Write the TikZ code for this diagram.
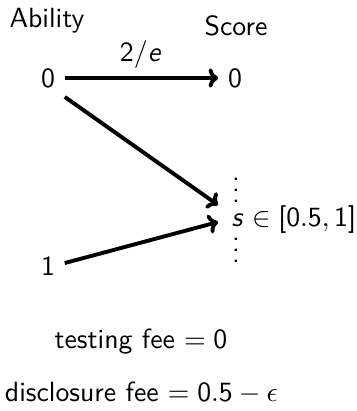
\documentclass[tikz,border=0pt]{standalone}
\usetikzlibrary{arrows.meta}
\DeclareSymbolFont{sfit}{OT1}{cmss}{m}{sl}
\SetSymbolFont{operators}{normal}{OT1}{cmss}{m}{n}
\DeclareMathSymbol{s}{\mathalpha}{sfit}{`s}
\DeclareMathSymbol{e}{\mathalpha}{sfit}{`e}
\newcommand\tightvdots{\vbox{\baselineskip4pt\lineskiplimit0pt\hbox{.}\hbox{.}\hbox{.}}}
\tikzset{
  lbl/.style={font=\sffamily},
  arr/.style={line width=1.4pt,-{To[length=3.5pt,width=7pt]}},
}
\begin{document}
\begin{tikzpicture}[x=0.36pt,y=-0.36pt]
\useasboundingbox (0,0) rectangle (357,411);
\node[lbl] (ab) at (47,21) {Ability};
\node[lbl] (sc) at (236,26) {Score};
\node[lbl] (a0) at (48,78) {$0$};
\node[lbl] (a1) at (48,266) {$1$};
\node[lbl] (s0) at (235,78) {$0$};
\node[lbl,inner sep=0pt,anchor=base west] (sv) at (231,226) {$s\in[0.5,1]$};
\node[lbl,inner sep=0pt] (d1) at (236,190) {\tightvdots};
\node[lbl,inner sep=0pt] (d2) at (236,250) {\tightvdots};
\coordinate (t1) at (218,205);
\coordinate (t2) at (218,222);
\draw[arr] (a0) -- (s0);
\node[lbl] (w) at (141,55) {$2/e$};
\draw[arr] (a0.south east) -- (t1);
\draw[arr] (a1.10) -- (t2);
\node[lbl] (tf) at (141,342) {testing fee $=0$};
\node[lbl] (df) at (141.5,393) {disclosure fee $=0.5-\epsilon$};
\end{tikzpicture}
\end{document}
